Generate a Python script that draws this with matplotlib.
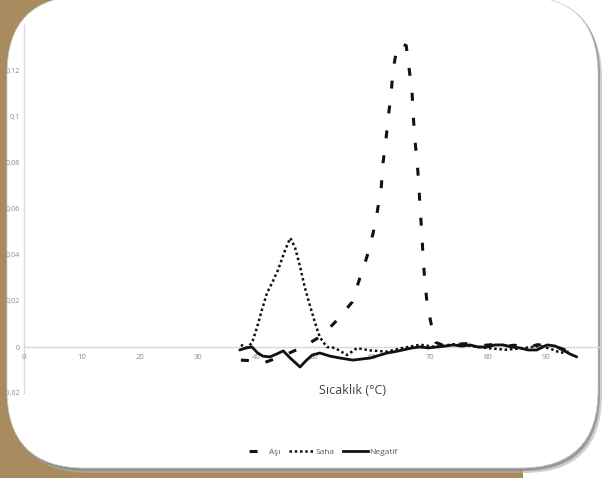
import matplotlib
matplotlib.use('Agg')
import matplotlib.pyplot as plt
from matplotlib.patches import FancyBboxPatch, Rectangle
from matplotlib.transforms import IdentityTransform
from matplotlib.lines import Line2D

plt.rcParams['font.family'] = ['Open Sans', 'DejaVu Sans']

# ---------------- data ----------------
series_names = ['Aşı', 'Saha', 'Negatif']

asi_temp = [37.4, 39.5, 41.2, 44.5, 48.1, 51.4, 54.1, 56.6, 57.9, 59.1,
            60.2, 60.9, 61.6, 61.9, 62.4, 62.8, 63.3, 63.6, 64.3, 65.0,
            65.9, 66.4, 66.9, 67.1, 67.4, 67.8, 68.1, 68.3, 68.6, 68.8,
            69.1, 69.5, 70.3, 71.0, 72.5, 74.5, 76.5, 78.5, 80.5, 82.5,
            84.5, 86.5, 88.5, 90.5, 92.5, 94.0, 95.3]
asi_vals = [-0.0057, -0.006, -0.007, -0.004, 0.0, 0.005, 0.012, 0.0196, 0.030, 0.039,
            0.0496, 0.0587, 0.0696, 0.080, 0.090, 0.100, 0.110, 0.120, 0.130, 0.132,
            0.131, 0.121, 0.111, 0.101, 0.090, 0.080, 0.0696, 0.0596, 0.0496, 0.039,
            0.029, 0.019, 0.0087, 0.002, 0.0005, 0.0012, 0.0015, 0.0005, 0.001, 0.0,
            0.0008, -0.0005, 0.001, 0.0005, -0.0005, -0.002, -0.0035]

saha_temp = [37.4, 38.3, 39.3, 40.2, 41.0, 41.9, 42.8, 43.8, 45.0, 45.9,
             46.7, 47.6, 48.4, 49.3, 50.2, 51.0, 52.2, 53.6, 55.7, 57.4,
             59.7, 62.6, 65.3, 68.3, 71.0, 74.0, 77.0, 80.0, 83.0, 86.0,
             89.0, 91.0, 92.5, 94.0]
saha_vals = [0.001, -0.0004, 0.0017, 0.0087, 0.016, 0.0235, 0.028, 0.0335, 0.042, 0.0474,
             0.0435, 0.035, 0.026, 0.018, 0.0104, 0.0043, 0.0, -0.0004, -0.0035, -0.0005,
             -0.0015, -0.002, -0.0004, 0.001, 0.0, 0.0012, 0.0005, -0.0005, -0.0012, -0.0005,
             0.0005, -0.001, -0.0025, -0.002]

neg_temp = [37.2, 38.3, 39.3, 40.3, 41.2, 42.4, 43.6, 44.7, 45.9, 47.6,
            48.6, 49.7, 51.0, 52.8, 54.5, 56.7, 58.3, 59.7, 61.4, 62.6,
            64.0, 65.3, 66.9, 68.3, 69.7, 71.2, 72.6, 74.0, 75.5, 76.9,
            78.3, 79.8, 81.2, 82.6, 84.1, 85.5, 86.9, 88.4, 90.2, 91.6,
            92.9, 94.1, 95.3]
neg_vals = [-0.0013, -0.0004, 0.0, -0.0026, -0.004, -0.0043, -0.003, -0.0017, -0.0048, -0.0087,
            -0.006, -0.0035, -0.0026, -0.004, -0.0048, -0.0057, -0.0052, -0.0048, -0.0035, -0.0026,
            -0.002, -0.0013, -0.0004, 0.0, -0.0004, 0.0, 0.0004, 0.0009, 0.0004, 0.0009,
            0.0, 0.0, 0.0009, 0.0009, 0.0, -0.0004, -0.0013, -0.0013, 0.0009, 0.0004,
            -0.0013, -0.003, -0.0043]

x_ticks = [0, 10, 20, 30, 40, 50, 60, 70, 80, 90]
y_ticks = [-0.02, 0, 0.02, 0.04, 0.06, 0.08, 0.1, 0.12]
y_tick_labels = ['-0,02', '0', '0,02', '0,04', '0,06', '0,08', '0,1', '0,12']
x_label = 'Sıcaklık (°C)'

# ---------------- figure / frame ----------------
W, H = 602, 478
fig = plt.figure(figsize=(W / 100, H / 100), dpi=100)
fig.patch.set_facecolor('white')
ident = IdentityTransform()
brown = '#a88b5f'

fig.add_artist(Rectangle((0, 0), 523, H, transform=ident, facecolor=brown,
                         edgecolor='none', zorder=-30))
box = dict(boxstyle='round,pad=0,rounding_size=78')
fig.add_artist(FancyBboxPatch((11, 5), 591, 472, transform=ident, facecolor='#b0b0b0',
                              edgecolor='none', alpha=0.6, zorder=-22, **box))
fig.add_artist(FancyBboxPatch((9, 7), 591, 474, transform=ident, facecolor='#8c8c8c',
                              edgecolor='none', alpha=0.8, zorder=-21, **box))
fig.add_artist(FancyBboxPatch((7, 10), 591, 472, transform=ident, facecolor='white',
                              edgecolor='#cfcfcf', linewidth=0.5, zorder=-10, **box))

# ---------------- axes ----------------
ax = fig.add_axes([24 / W, 1 - 393 / H, 580 / W, 368 / H])
ax.patch.set_visible(False)
ax.set_xlim(0, 100)
ax.set_ylim(-0.02, 0.14)

l1, = ax.plot(asi_temp, asi_vals, color='#111111', lw=2.2,
              linestyle=(0, (2.6, 5.6)), dash_capstyle='butt', label=series_names[0])
l2, = ax.plot(saha_temp, saha_vals, color='#111111', lw=1.8,
              linestyle=(0, (1, 1.1)), label=series_names[1])
l3, = ax.plot(neg_temp, neg_vals, color='#111111', lw=2.0,
              solid_capstyle='round', label=series_names[2])

for s in ['top', 'right']:
    ax.spines[s].set_visible(False)
ax.spines['bottom'].set_position(('data', 0))
for s in ['left', 'bottom']:
    ax.spines[s].set_color('#d9d9d9')
    ax.spines[s].set_linewidth(1.0)
    ax.spines[s].set_zorder(0.5)

ax.set_xticks(x_ticks)
ax.set_xticklabels([str(t) for t in x_ticks])
ax.set_yticks(y_ticks)
ax.set_yticklabels(y_tick_labels)
ax.tick_params(axis='both', length=0, labelsize=5.5, labelcolor='#8c8c8c')
ax.tick_params(axis='y', labelsize=5.2, pad=3)
ax.tick_params(axis='x', pad=5)

fig.text(352 / W, 1 - 390 / H, x_label, ha='center', va='center',
         fontsize=9, color='#404040')

# legend handles (same styles as the plotted series)
h_asi = Line2D([], [], color='#111111', lw=2.2, linestyle=(7.1, (2.6, 6.5)),
               dash_capstyle='butt')
h_saha = Line2D([], [], color='#111111', lw=1.8, linestyle=(0, (1, 1.1)))
h_neg = Line2D([], [], color='#111111', lw=2.0)
fig.legend(handles=[h_asi, h_saha, h_neg], labels=series_names, loc='center',
           bbox_to_anchor=(320 / W, 1 - 452 / H), ncol=3, frameon=False,
           fontsize=6, labelcolor='#595959', handlelength=3.0,
           handletextpad=0.15, columnspacing=1.0)

fig.savefig('out.png', dpi=100)
